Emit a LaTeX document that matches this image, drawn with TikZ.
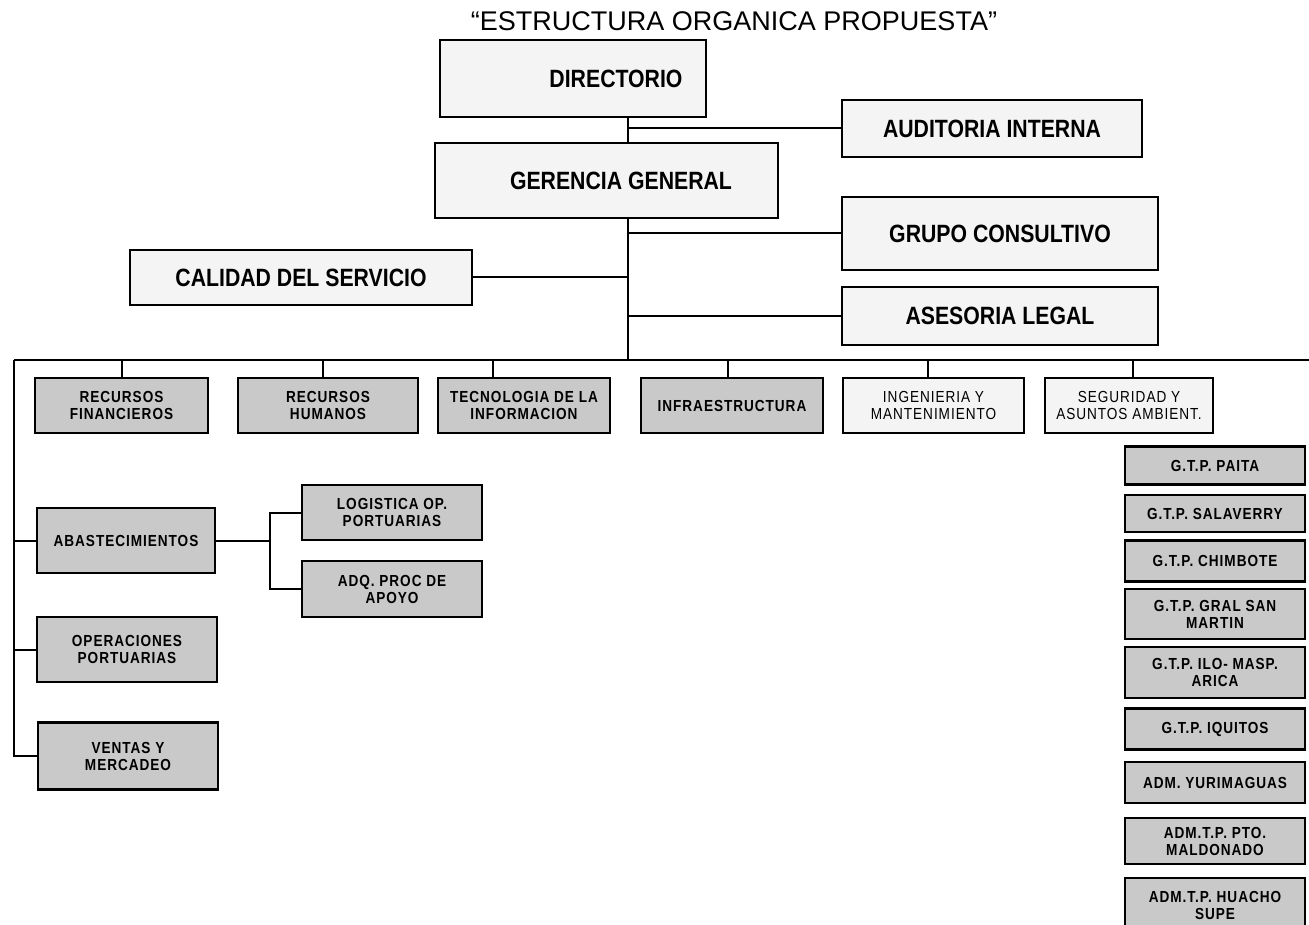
\documentclass[tikz,border=0pt]{standalone}
\usepackage{fontspec}
\setmainfont{Liberation Sans}
\newfontfamily\narrowfont[FakeStretch=0.85]{Liberation Sans}
\newfontfamily\spacedfont[FakeStretch=0.85,LetterSpace=6]{Liberation Sans}
\begin{document}
\begin{tikzpicture}[x=1pt,y=-1pt,
  box/.style={draw=black,line width=2.2pt,inner sep=0pt,align=center},
  lite/.style={box,fill=gray!9},
  dark/.style={box,fill=gray!42},
  big/.style={font=\narrowfont\bfseries\fontsize{25}{28}\selectfont},
  small/.style={font=\spacedfont\bfseries\fontsize{16}{17}\selectfont},
  thin/.style={font=\spacedfont\fontsize{16}{17}\selectfont},
  link/.style={draw=black,line width=2pt}]
\useasboundingbox (0,0) rectangle (1309,925);

% title
\node (title) at (734,21) {\fontsize{27}{30}\selectfont “ESTRUCTURA ORGANICA PROPUESTA”};

% upper management
\node (dir) [lite,big,minimum width=266pt,minimum height=77pt] at (573,78.5) {\hspace*{86pt}DIRECTORIO};
\node (ger) [lite,big,minimum width=343pt,minimum height=75pt] at (606.5,180.5) {\hspace*{29pt}GERENCIA GENERAL};
\node (aud) [lite,big,minimum width=300pt,minimum height=57pt] at (992,128.5) {AUDITORIA INTERNA};
\node (gru) [lite,big,minimum width=316pt,minimum height=73pt] at (1000,233.5) {GRUPO CONSULTIVO};
\node (cal) [lite,big,minimum width=342pt,minimum height=55pt] at (301,277.5) {CALIDAD DEL SERVICIO};
\node (ase) [lite,big,minimum width=316pt,minimum height=58pt] at (1000,316) {ASESORIA LEGAL};

% trunk and bus
\coordinate (bus) at (628,360);
\coordinate (busL) at (14,360);
\coordinate (busR) at (1309,360);
\draw[link] (dir.south -| bus) -- (ger.north -| bus);
\draw[link] (ger.south -| bus) -- (bus);
\draw[link] (bus |- aud.west) -- (aud.west);
\draw[link] (bus |- gru.west) -- (gru.west);
\draw[link] (bus |- ase.west) -- (ase.west);
\draw[link] (cal.east) -- (bus |- cal.east);
\draw[link] (busL) -- (busR);

% first row of departments
\node (rf)  [dark,small,minimum width=173pt,minimum height=55pt] at (121.5,405.5) {RECURSOS\\FINANCIEROS};
\node (rh)  [dark,small,minimum width=180pt,minimum height=55pt] at (328,405.5) {RECURSOS\\HUMANOS};
\node (ti)  [dark,small,minimum width=172pt,minimum height=55pt] at (524,405.5) {TECNOLOGIA DE LA\\INFORMACION};
\node (inf) [dark,small,minimum width=182pt,minimum height=55pt] at (732,405.5) {INFRAESTRUCTURA};
\node (ing) [lite,thin,minimum width=181pt,minimum height=55pt] at (933.5,405.5) {INGENIERIA Y\\MANTENIMIENTO};
\node (seg) [lite,thin,minimum width=168pt,minimum height=55pt] at (1129,405.5) {SEGURIDAD Y\\ASUNTOS AMBIENT.};

\foreach \n/\px in {rf/122,rh/323,ti/493,inf/728,ing/928,seg/1133}
  \draw[link] (\px,360) -- (\n.north -| \px,0);

% left column
\node (aba) [dark,small,minimum width=178pt,minimum height=65pt] at (126,540.5) {ABASTECIMIENTOS};
\node (ope) [dark,small,minimum width=180pt,minimum height=65pt] at (127,649.5) {OPERACIONES\\PORTUARIAS};
\node (ven) [dark,small,minimum width=180pt,minimum height=67pt] at (128,756) {VENTAS Y\\MERCADEO};
\node (log) [dark,small,minimum width=180pt,minimum height=55pt] at (392,512.5) {LOGISTICA OP.\\PORTUARIAS};
\node (adq) [dark,small,minimum width=180pt,minimum height=56pt] at (392,589) {ADQ. PROC DE\\APOYO};

\draw[link] (busL) |- (ven.west);
\draw[link] (busL |- aba.west) -- (aba.west);
\draw[link] (busL |- ope.west) -- (ope.west);
\coordinate (br) at (270,540.5);
\draw[link] (aba.east) -- (br);
\draw[link] (log.west) -| (br) |- (adq.west);

% port terminals
\node (g1) [dark,small,minimum width=180pt,minimum height=38pt] at (1215,465.5) {G.T.P. PAITA};
\node (g2) [dark,small,minimum width=180pt,minimum height=37pt] at (1215,513.5) {G.T.P. SALAVERRY};
\node (g3) [dark,small,minimum width=180pt,minimum height=41pt] at (1215,561) {G.T.P. CHIMBOTE};
\node (g4) [dark,small,minimum width=180pt,minimum height=50pt] at (1215,614) {G.T.P. GRAL SAN\\MARTIN};
\node (g5) [dark,small,minimum width=180pt,minimum height=51pt] at (1215,672.5) {G.T.P. ILO- MASP.\\ARICA};
\node (g6) [dark,small,minimum width=180pt,minimum height=41pt] at (1215,729) {G.T.P. IQUITOS};
\node (g7) [dark,small,minimum width=180pt,minimum height=41pt] at (1215,782.5) {ADM. YURIMAGUAS};
\node (g8) [dark,small,minimum width=180pt,minimum height=46pt] at (1215,841) {ADM.T.P. PTO.\\MALDONADO};
\node (g9) [dark,small,minimum width=180pt,minimum height=54pt] at (1215,905) {ADM.T.P. HUACHO\\SUPE};
\end{tikzpicture}
\end{document}
